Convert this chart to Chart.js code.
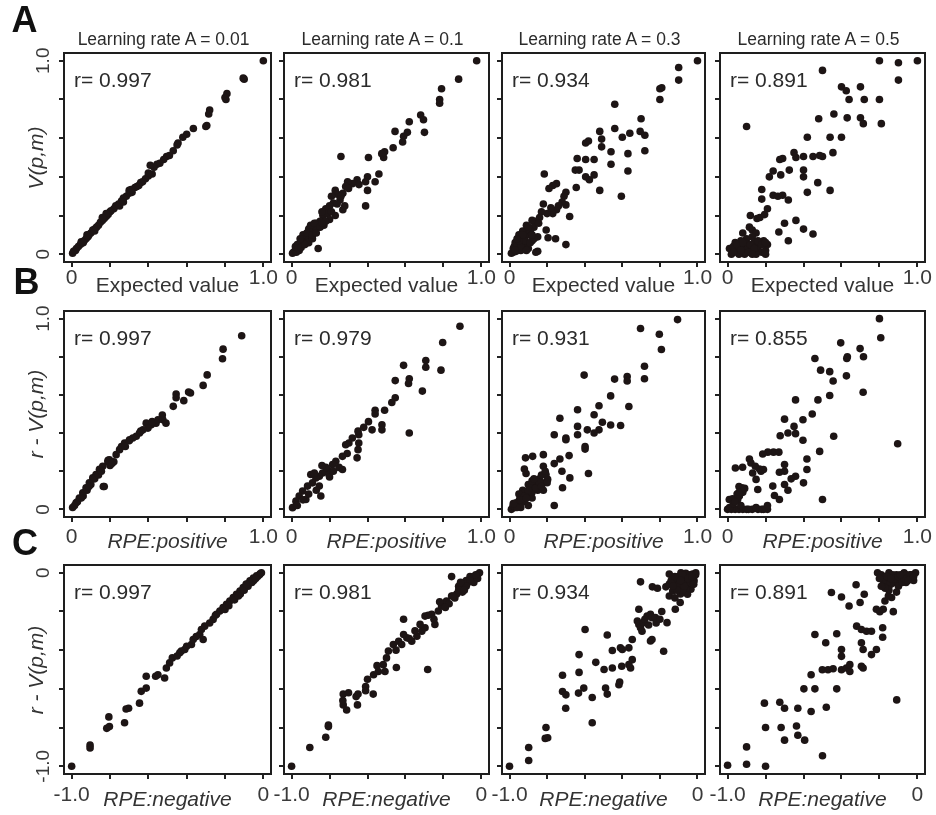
<!DOCTYPE html>
<html>
<head>
<meta charset="utf-8">
<script src="https://cdn.jsdelivr.net/npm/chart.js@4.4.1/dist/chart.umd.min.js"></script>
<style>
body { margin: 0; background: #fff; }
#fig { position: relative; width: 936px; height: 815px; overflow: hidden;
       font-family: "Liberation Sans", Arial, sans-serif; color: #2b2b2b; }
#fig canvas { position: absolute; }
.t { position: absolute; white-space: nowrap; line-height: 1; transform: translate(-50%, -50%); }
.letter { font-weight: bold; font-size: 36px; color: #111; }
.head { font-size: 17.5px; }
.rval { font-size: 21px; transform: translate(0, -50%); }
.xt { font-size: 21px; color: #333; }
.yt { font-size: 21px; font-style: italic; color: #333; transform: translate(-50%, -50%) rotate(-90deg); }
</style>
</head>
<body>
<div id="fig"></div>
<script>
// learning rates (columns) and correlation values per row
var rates = ['0.01', '0.1', '0.3', '0.5'];
var rA = ['0.997', '0.981', '0.934', '0.891'];
var rB = ['0.997', '0.979', '0.931', '0.855'];
var rC = ['0.997', '0.981', '0.934', '0.891'];

// axis ticks
var posTicks = [0, 0.2, 0.4, 0.6, 0.8, 1.0];
var negTicks = [-1.0, -0.8, -0.6, -0.4, -0.2, 0];
var posLabels = {'0': '0', '1': '1.0'};
var negLabels = {'-1': '-1.0', '0': '0'};

// row A: Expected value vs V(p,m)
var a1 = [[1,1],[0.9,0.905],[0.895,0.91],[0.81,0.83],[0.805,0.8],[0.8,0.81],[0.72,0.745],[0.715,0.725],[0.7,0.66],[0.705,0.665],
  [0.635,0.65],[0.6,0.62],[0.58,0.605],[0.555,0.575],[0.55,0.565],[0.53,0.535],[0.51,0.51],[0.495,0.505],[0.48,0.49],[0.46,0.47],
  [0.445,0.465],[0.43,0.45],[0.41,0.46],[0.42,0.415],[0.4,0.405],[0.385,0.39],[0.37,0.375],[0.36,0.37],[0.34,0.35],[0.33,0.345],
  [0.315,0.32],[0.3,0.315],[0.285,0.3],[0.27,0.29],[0.26,0.275],[0.245,0.26],[0.23,0.25],[0.22,0.235],[0.205,0.225],[0.2,0.22],
  [0.19,0.205],[0.18,0.195],[0.17,0.185],[0.16,0.175],[0.15,0.165],[0.14,0.15],[0.13,0.14],[0.12,0.13],[0.11,0.125],[0.1,0.11],
  [0.09,0.1],[0.085,0.09],[0.075,0.08],[0.065,0.07],[0.055,0.06],[0.045,0.05],[0.035,0.04],[0.025,0.03],[0.02,0.02],[0.01,0.015],
  [0.005,0.005],[0.25,0.25],[0.18,0.21],[0.12,0.12],[0.08,0.1],[0.05,0.065],[0.3,0.33],[0.4,0.42],[0.35,0.355],[0.31,0.335],
  [0.27,0.27],[0.06,0.06],[0.16,0.19]];
var a2 = [[0.975,1],[0.88,0.905],[0.79,0.855],[0.78,0.8],[0.78,0.78],[0.68,0.72],[0.695,0.695],[0.7,0.63],[0.62,0.685],[0.61,0.63],
  [0.59,0.61],[0.585,0.58],[0.545,0.635],[0.535,0.55],[0.49,0.53],[0.485,0.5],[0.475,0.52],[0.405,0.5],[0.26,0.505],[0.46,0.415],
  [0.44,0.375],[0.4,0.4],[0.39,0.375],[0.4,0.33],[0.345,0.385],[0.355,0.36],[0.32,0.365],[0.295,0.375],[0.285,0.35],[0.39,0.25],
  [0.23,0.33],[0.24,0.31],[0.21,0.3],[0.27,0.315],[0.255,0.28],[0.27,0.23],[0.22,0.265],[0.2,0.25],[0.18,0.235],[0.165,0.2],
  [0.19,0.21],[0.15,0.17],[0.16,0.22],[0.14,0.14],[0.12,0.13],[0.13,0.16],[0.1,0.11],[0.09,0.13],[0.08,0.09],[0.07,0.08],
  [0.06,0.06],[0.05,0.07],[0.04,0.04],[0.03,0.05],[0.02,0.02],[0.01,0.01],[0.005,0.005],[0.14,0.03],[0.06,0.1],[0.09,0.06],
  [0.11,0.08],[0.17,0.15],[0.2,0.18],[0.23,0.2],[0.3,0.34],[0.28,0.25],[0.1,0.15],[0.04,0.02],[0.025,0.01],[0.02,0.04],
  [0.035,0.03],[0.05,0.035],[0.07,0.05],[0.08,0.11],[0.11,0.1],[0.12,0.16],[0.15,0.14],[0.18,0.17],[0.13,0.11],[0.16,0.16],
  [0.21,0.22],[0.24,0.26],[0.26,0.3],[0.045,0.08]];
var a3 = [[1,1],[0.9,0.965],[0.9,0.9],[0.81,0.86],[0.8,0.855],[0.8,0.8],[0.56,0.775],[0.7,0.7],[0.695,0.635],[0.72,0.615],
  [0.72,0.535],[0.64,0.625],[0.6,0.605],[0.56,0.65],[0.48,0.635],[0.49,0.595],[0.49,0.555],[0.405,0.575],[0.42,0.585],[0.54,0.53],
  [0.63,0.52],[0.63,0.43],[0.595,0.3],[0.54,0.465],[0.45,0.49],[0.405,0.49],[0.36,0.495],[0.37,0.435],[0.405,0.4],[0.425,0.385],
  [0.45,0.41],[0.48,0.33],[0.355,0.345],[0.35,0.435],[0.3,0.32],[0.29,0.3],[0.25,0.365],[0.23,0.355],[0.21,0.34],[0.185,0.415],
  [0.32,0.195],[0.3,0.05],[0.3,0.255],[0.28,0.27],[0.25,0.23],[0.23,0.21],[0.2,0.21],[0.18,0.26],[0.17,0.22],[0.16,0.19],
  [0.14,0.17],[0.12,0.175],[0.13,0.14],[0.11,0.12],[0.1,0.1],[0.09,0.125],[0.08,0.09],[0.07,0.06],[0.06,0.08],[0.05,0.05],
  [0.04,0.03],[0.03,0.06],[0.02,0.01],[0.01,0.005],[0.035,0.015],[0.06,0.02],[0.08,0.04],[0.1,0.03],[0.15,0.015],[0.14,0.01],
  [0.195,0.125],[0.205,0.085],[0.245,0.08],[0.15,0.09],[0.12,0.07],[0.05,0.1],[0.025,0.04],[0.07,0.12],[0.155,0.16],[0.22,0.24],
  [0.26,0.25],[0.02,0.03],[0.04,0.05],[0.06,0.04],[0.08,0.07],[0.09,0.02],[0.11,0.06],[0.13,0.08],[0.05,0.07],[0.03,0.02],
  [0.07,0.1],[0.09,0.15],[0.12,0.1],[0.1,0.14],[0.04,0.08]];
var a4 = [[0.8,1],[0.9,0.99],[1,1],[0.9,0.9],[0.5,0.95],[0.6,0.865],[0.625,0.845],[0.7,0.865],[0.64,0.8],[0.72,0.8],
  [0.8,0.8],[0.81,0.675],[0.1,0.66],[0.56,0.725],[0.48,0.7],[0.63,0.705],[0.7,0.705],[0.715,0.675],[0.42,0.605],[0.54,0.605],
  [0.6,0.605],[0.555,0.525],[0.5,0.505],[0.485,0.51],[0.45,0.505],[0.4,0.505],[0.36,0.5],[0.35,0.525],[0.29,0.495],[0.275,0.49],
  [0.4,0.435],[0.4,0.4],[0.325,0.435],[0.28,0.41],[0.24,0.43],[0.22,0.4],[0.475,0.37],[0.54,0.33],[0.42,0.32],[0.18,0.335],
  [0.18,0.285],[0.21,0.235],[0.24,0.305],[0.265,0.3],[0.29,0.305],[0.32,0.28],[0.12,0.2],[0.155,0.185],[0.17,0.19],[0.195,0.205],
  [0.3,0.16],[0.36,0.175],[0.4,0.13],[0.45,0.105],[0.27,0.115],[0.32,0.07],[0.08,0.11],[0.115,0.14],[0.13,0.125],[0.15,0.11],
  [0.02,0],[0.03,0.02],[0.05,0.01],[0.06,0.04],[0.08,0.03],[0.1,0.05],[0.12,0.02],[0.14,0.06],[0.16,0.03],[0.18,0.01],
  [0.2,0.02],[0.21,0.05],[0.19,0.07],[0.17,0.06],[0.04,0.06],[0.07,0.07],[0.1,0.08],[0.13,0.09],[0.01,0.03],[0.09,0],
  [0.15,0],[0.06,0],[0.11,0.035],[0.03,0.04],[0.05,0.05],[0.07,0.02],[0.09,0.06],[0.12,0.05],[0.14,0.03],[0.16,0.07],
  [0.18,0.05],[0.2,0.06],[0.11,0.01],[0.13,0],[0.2,0],[0.08,0.06],[0.03,0.01]];

// row B: RPE:positive vs r - V(p,m)
var b1 = [[0.887,0.91],[0.79,0.84],[0.787,0.79],[0.707,0.705],[0.686,0.65],[0.62,0.61],[0.61,0.615],[0.545,0.605],[0.545,0.585],[0.585,0.57],
  [0.53,0.54],[0.473,0.495],[0.476,0.47],[0.492,0.452],[0.44,0.452],[0.415,0.443],[0.389,0.452],[0.398,0.426],[0.372,0.417],[0.354,0.4],
  [0.337,0.383],[0.319,0.374],[0.302,0.365],[0.276,0.348],[0.25,0.313],[0.232,0.287],[0.197,0.26],[0.189,0.25],[0.162,0.226],[0.145,0.21],
  [0.127,0.183],[0.11,0.165],[0.092,0.139],[0.075,0.113],[0.058,0.087],[0.04,0.06],[0.023,0.035],[0.005,0.01],[0.17,0.12],[0.2,0.23],
  [0.22,0.25],[0.12,0.16],[0.14,0.18],[0.08,0.1],[0.06,0.07],[0.03,0.04],[0.015,0.02],[0.1,0.13],[0.26,0.33],[0.28,0.33],
  [0.3,0.36],[0.36,0.41],[0.42,0.46],[0.45,0.47],[0.19,0.257],[0.165,0.12],[0.21,0.24],[0.05,0.06],[0.09,0.12],[0.155,0.2]];
var b2 = [[0.887,0.96],[0.796,0.875],[0.707,0.78],[0.707,0.745],[0.787,0.73],[0.59,0.755],[0.546,0.675],[0.62,0.685],[0.616,0.66],[0.689,0.62],
  [0.62,0.4],[0.546,0.585],[0.528,0.56],[0.49,0.52],[0.44,0.52],[0.44,0.5],[0.405,0.46],[0.476,0.443],[0.476,0.417],[0.424,0.417],
  [0.354,0.391],[0.32,0.374],[0.302,0.348],[0.285,0.339],[0.354,0.348],[0.35,0.313],[0.345,0.27],[0.293,0.293],[0.268,0.278],[0.233,0.252],
  [0.216,0.235],[0.19,0.209],[0.163,0.191],[0.146,0.174],[0.128,0.165],[0.101,0.183],[0.11,0.139],[0.084,0.122],[0.058,0.096],[0.04,0.07],
  [0.023,0.043],[0.005,0.009],[0.268,0.209],[0.197,0.183],[0.146,0.122],[0.154,0.07],[0.075,0.052],[0.18,0.22],[0.2,0.17],[0.22,0.2],
  [0.12,0.19],[0.09,0.08],[0.06,0.05],[0.03,0.02],[0.13,0.1],[0.25,0.22],[0.16,0.23],[0.35,0.41],[0.38,0.43]];
var b3 = [[0.894,0.995],[0.697,0.948],[0.797,0.918],[0.808,0.838],[0.718,0.75],[0.718,0.685],[0.626,0.696],[0.626,0.673],[0.559,0.683],[0.397,0.704],
  [0.538,0.595],[0.635,0.539],[0.476,0.543],[0.45,0.496],[0.362,0.522],[0.268,0.478],[0.494,0.457],[0.538,0.442],[0.591,0.44],[0.476,0.417],
  [0.45,0.4],[0.414,0.417],[0.402,0.316],[0.402,0.33],[0.362,0.435],[0.362,0.391],[0.3,0.374],[0.3,0.365],[0.238,0.391],[0.42,0.188],
  [0.268,0.264],[0.317,0.282],[0.279,0.2],[0.238,0.24],[0.321,0.165],[0.282,0.113],[0.238,0.02],[0.18,0.287],[0.123,0.278],[0.085,0.27],
  [0.079,0.212],[0.088,0.188],[0.18,0.226],[0.194,0.183],[0.203,0.157],[0.176,0.139],[0.15,0.122],[0.123,0.104],[0.097,0.07],[0.053,0.052],
  [0.035,0.035],[0.018,0.009],[0.01,0],[0.03,0.01],[0.05,0.02],[0.07,0.05],[0.09,0.09],[0.11,0.08],[0.13,0.12],[0.16,0.16],
  [0.17,0.18],[0.14,0.15],[0.1,0.13],[0.07,0.1],[0.05,0.08],[0.04,0.03],[0.06,0.01],[0.02,0.02],[0.12,0.06],[0.15,0.1],
  [0.19,0.2],[0.2,0.14],[0.18,0.1],[0.12,0.15],[0.08,0.04],[0.1,0.02],[0.12,0.09],[0.14,0.11],[0.16,0.14],[0.08,0.07],
  [0.06,0.05],[0.1,0.1],[0.13,0.16],[0.17,0.12],[0.04,0.01],[0.02,0.03],[0.09,0.06]];
var b4 = [[0.8,1],[0.807,0.9],[0.596,0.873],[0.698,0.843],[0.628,0.791],[0.631,0.8],[0.716,0.8],[0.46,0.791],[0.49,0.73],[0.538,0.722],
  [0.556,0.673],[0.626,0.7],[0.714,0.614],[0.896,0.344],[0.358,0.574],[0.476,0.574],[0.538,0.597],[0.446,0.5],[0.3,0.473],[0.397,0.47],
  [0.35,0.435],[0.358,0.397],[0.277,0.386],[0.318,0.4],[0.397,0.362],[0.559,0.383],[0.485,0.304],[0.418,0.264],[0.418,0.209],[0.3,0.235],
  [0.3,0.2],[0.273,0.195],[0.242,0.3],[0.212,0.3],[0.185,0.29],[0.27,0.3],[0.358,0.174],[0.335,0.16],[0.4,0.139],[0.3,0.13],
  [0.318,0.1],[0.273,0.052],[0.247,0.073],[0.238,0.122],[0.5,0.052],[0.041,0.217],[0.079,0.221],[0.115,0.264],[0.123,0.243],[0.146,0.226],
  [0.168,0.212],[0.176,0.2],[0.189,0.209],[0.159,0.104],[0.15,0.157],[0.132,0.191],[0.075,0.113],[0.071,0.087],[0.062,0.07],[0.053,0.052],
  [0.009,0.052],[0.026,0.055],[0,0],[0.02,0],[0.04,0],[0.06,0],[0.08,0],[0.1,0],[0.13,0],[0.16,0],
  [0.19,0],[0.21,0],[0.21,0.02],[0.05,0.08],[0.07,0.1],[0.06,0.12],[0.08,0.09],[0.01,0.01],[0.03,0.03],[0.07,0.02],
  [0.11,0],[0.15,0.01],[0.18,0],[0.06,0.09],[0.09,0.11],[0.04,0.04]];

// row C: RPE:negative vs r - V(p,m)
var c1 = [[-1,-1],[-0.904,-0.89],[-0.904,-0.905],[-0.806,-0.745],[-0.817,-0.804],[-0.803,-0.795],[-0.724,-0.775],[-0.716,-0.704],[-0.703,-0.7],[-0.646,-0.674],
  [-0.637,-0.613],[-0.611,-0.596],[-0.611,-0.535],[-0.562,-0.535],[-0.55,-0.527],[-0.515,-0.544],[-0.506,-0.492],[-0.489,-0.466],[-0.475,-0.44],[-0.436,-0.414],
  [-0.428,-0.405],[-0.41,-0.397],[-0.375,-0.371],[-0.366,-0.345],[-0.332,-0.319],[-0.323,-0.293],[-0.306,-0.276],[-0.262,-0.241],[-0.244,-0.215],[-0.227,-0.198],
  [-0.21,-0.18],[-0.192,-0.163],[-0.175,-0.146],[-0.157,-0.128],[-0.14,-0.111],[-0.122,-0.094],[-0.105,-0.076],[-0.087,-0.059],[-0.07,-0.042],[-0.052,-0.028],
  [-0.035,-0.016],[-0.017,-0.005],[-0.314,-0.345],[-0.45,-0.43],[-0.4,-0.38],[-0.28,-0.26],[-0.2,-0.19],[-0.15,-0.14],[-0.12,-0.11],[-0.08,-0.07],
  [-0.05,-0.04],[-0.02,-0.01],[-0.25,-0.22],[-0.35,-0.33],[-0.1,-0.09],[-0.06,-0.05],[-0.03,-0.02],[-0.18,-0.17],[-0.13,-0.12],[-0.09,-0.06],
  [-0.04,-0.03],[-0.01,0]];
var c2 = [[-1,-1],[-0.904,-0.903],[-0.82,-0.85],[-0.806,-0.787],[-0.806,-0.795],[-0.728,-0.627],[-0.728,-0.683],[-0.71,-0.709],[-0.653,-0.683],[-0.65,-0.627],
  [-0.61,-0.588],[-0.61,-0.61],[-0.57,-0.627],[-0.568,-0.527],[-0.543,-0.51],[-0.517,-0.475],[-0.508,-0.51],[-0.448,-0.49],[-0.283,-0.5],[-0.41,-0.24],
  [-0.49,-0.405],[-0.464,-0.371],[-0.436,-0.354],[-0.41,-0.319],[-0.42,-0.371],[-0.393,-0.336],[-0.367,-0.354],[-0.34,-0.328],[-0.314,-0.302],[-0.297,-0.284],
  [-0.323,-0.267],[-0.297,-0.224],[-0.262,-0.215],[-0.245,-0.267],[-0.227,-0.198],[-0.21,-0.172],[-0.184,-0.146],[-0.157,-0.12],[-0.157,-0.02],[-0.13,-0.11],
  [-0.11,-0.08],[-0.09,-0.06],[-0.07,-0.05],[-0.05,-0.03],[-0.03,-0.02],[-0.02,-0.01],[-0.01,0],[-0.04,-0.05],[-0.06,-0.02],[-0.08,-0.04],
  [-0.1,-0.1],[-0.12,-0.07],[-0.14,-0.13],[-0.17,-0.16],[-0.19,-0.18],[-0.22,-0.15],[-0.25,-0.24],[-0.28,-0.22],[-0.35,-0.3],[-0.38,-0.34],
  [-0.45,-0.4],[-0.5,-0.44],[-0.55,-0.48],[-0.6,-0.55],[-0.66,-0.64],[-0.7,-0.62],[-0.73,-0.66],[-0.04,-0.02],[-0.02,-0.03],[-0.06,-0.04],
  [-0.03,-0.01],[-0.08,-0.07],[-0.11,-0.05],[-0.12,-0.09],[-0.15,-0.12],[-0.09,-0.09]];
var c3 = [[-1,-1],[-0.898,-0.903],[-0.898,-0.97],[-0.806,-0.8],[-0.81,-0.856],[-0.797,-0.853],[-0.56,-0.775],[-0.701,-0.7],[-0.718,-0.614],[-0.7,-0.631],
  [-0.718,-0.53],[-0.63,-0.515],[-0.633,-0.622],[-0.605,-0.596],[-0.56,-0.645],[-0.63,-0.423],[-0.598,-0.293],[-0.541,-0.463],[-0.497,-0.5],[-0.489,-0.596],
  [-0.48,-0.627],[-0.418,-0.579],[-0.414,-0.565],[-0.453,-0.492],[-0.403,-0.483],[-0.356,-0.492],[-0.365,-0.475],[-0.347,-0.449],[-0.453,-0.402],[-0.41,-0.388],
  [-0.4,-0.397],[-0.365,-0.388],[-0.347,-0.345],[-0.48,-0.322],[-0.312,-0.189],[-0.32,-0.25],[-0.312,-0.267],[-0.303,-0.284],[-0.286,-0.258],[-0.295,-0.302],
  [-0.268,-0.224],[-0.25,-0.215],[-0.242,-0.232],[-0.25,-0.353],[-0.242,-0.345],[-0.18,-0.406],[-0.224,-0.232],[-0.19,-0.2],[-0.162,-0.258],[-0.118,-0.189],
  [-0.092,-0.154],[-0.303,-0.047],[-0.24,-0.073],[-0.213,-0.08],[-0.168,-0.073],[-0.15,-0.007],[-0.132,-0.024],[-0.15,-0.059],[-0.15,-0.12],[-0.132,-0.094],
  [-0.097,-0.076],[-0.079,-0.059],[-0.062,-0.042],[-0.044,-0.024],[-0.026,-0.007],[-0.009,0],[-0.088,0],[-0.062,-0.003],[-0.053,-0.111],[-0.035,-0.085],
  [-0.018,-0.042],[-0.1,-0.02],[-0.07,-0.03],[-0.05,-0.06],[-0.03,-0.04],[-0.11,-0.05],[-0.12,-0.13],[-0.09,-0.11],[-0.06,-0.08],[-0.04,-0.01],
  [-0.02,-0.02],[-0.08,-0.09],[-0.14,-0.04],[-0.01,-0.01],[-0.26,-0.27],[-0.22,-0.26],[-0.2,-0.24],[-0.28,-0.24],[-0.12,-0.02],[-0.1,-0.06],
  [-0.08,-0.01],[-0.06,-0.06],[-0.04,-0.05],[-0.02,-0.06],[-0.11,-0.09],[-0.07,-0.07],[-0.05,-0.03],[-0.13,-0.07],[-0.03,-0.02],[-0.09,-0.04]];
var c4 = [[-1,-0.995],[-0.9,-0.99],[-0.8,-1],[-0.9,-0.9],[-0.5,-0.946],[-0.8,-0.8],[-0.718,-0.8],[-0.637,-0.792],[-0.63,-0.84],[-0.594,-0.865],
  [-0.7,-0.865],[-0.806,-0.674],[-0.725,-0.669],[-0.7,-0.7],[-0.63,-0.7],[-0.56,-0.717],[-0.48,-0.695],[-0.598,-0.6],[-0.54,-0.6],[-0.425,-0.6],
  [-0.109,-0.657],[-0.56,-0.527],[-0.501,-0.501],[-0.471,-0.501],[-0.444,-0.496],[-0.4,-0.501],[-0.374,-0.492],[-0.356,-0.51],[-0.356,-0.475],[-0.295,-0.483],
  [-0.286,-0.492],[-0.54,-0.319],[-0.483,-0.362],[-0.425,-0.315],[-0.4,-0.397],[-0.4,-0.432],[-0.295,-0.362],[-0.286,-0.397],[-0.242,-0.423],[-0.216,-0.397],
  [-0.183,-0.333],[-0.183,-0.284],[-0.32,-0.276],[-0.295,-0.293],[-0.268,-0.302],[-0.242,-0.302],[-0.453,-0.102],[-0.4,-0.125],[-0.36,-0.172],[-0.323,-0.062],
  [-0.302,-0.154],[-0.28,-0.111],[-0.216,-0.189],[-0.198,-0.201],[-0.18,-0.189],[-0.171,-0.146],[-0.136,-0.128],[-0.127,-0.201],[-0.153,-0.12],[-0.21,0],
  [-0.19,-0.01],[-0.17,-0.02],[-0.15,0],[-0.13,-0.03],[-0.11,-0.01],[-0.09,-0.04],[-0.07,0],[-0.05,-0.02],[-0.03,-0.01],[-0.01,0],
  [-0.12,-0.05],[-0.08,-0.02],[-0.06,-0.05],[-0.04,-0.03],[-0.02,-0.04],[-0.14,-0.06],[-0.1,-0.07],[-0.16,-0.05],[-0.18,-0.04],[-0.2,-0.03],
  [-0.11,-0.1],[-0.15,-0.09],[-0.17,-0.08],[-0.13,-0.01],[-0.12,-0.03],[-0.1,-0.02],[-0.08,-0.05],[-0.06,-0.01],[-0.04,-0.01],[-0.02,-0.02],
  [-0.07,-0.03],[-0.09,-0.01],[-0.05,-0.04],[-0.16,-0.02],[-0.14,-0.03],[-0.19,-0.07]];

// panel geometry (plot box edges in page pixels)
var colLeft = [64, 284, 502, 720];
var colRight = [271, 489, 705, 925];
var rowTop = [53, 311, 565];
var rowBottom = [262, 517, 774];

var fig = document.getElementById('fig');
var FONT = '"Liberation Sans", Arial, sans-serif';

function addText(cls, html, x, y) {
  var d = document.createElement('div');
  d.className = 't ' + cls;
  d.innerHTML = html;
  d.style.left = x + 'px';
  d.style.top = y + 'px';
  fig.appendChild(d);
  return d;
}

function labelOf(map, v) {
  var k = String(Math.round(v * 100) / 100);
  return map[k] !== undefined ? map[k] : '';
}

function panel(row, col, pts, rtext, neg) {
  var L = colLeft[col], R = colRight[col], T = rowTop[row], B = rowBottom[row];
  var w = R - L + 65, h = B - T + 60;
  var cv = document.createElement('canvas');
  cv.width = w; cv.height = h;
  cv.style.left = (L - 45) + 'px';
  cv.style.top = (T - 20) + 'px';
  cv.style.width = w + 'px';
  cv.style.height = h + 'px';
  fig.appendChild(cv);

  var tickVals = neg ? negTicks : posTicks;
  var labels = neg ? negLabels : posLabels;
  var range = neg ? [-1.04, 0.04] : [-0.04, 1.04];
  var pad = [0.5, 4.5, 5.5][row];

  var frame = {
    id: 'frame',
    afterDraw: function (chart) {
      var ctx = chart.ctx, a = chart.chartArea, ys = chart.scales.y;
      ctx.save();
      ctx.strokeStyle = '#1e1e1e';
      ctx.lineWidth = 2;
      ctx.strokeRect(a.left, a.top, a.right - a.left, a.bottom - a.top);
      if (col === 0) {
        ctx.fillStyle = '#3a3a3a';
        ctx.font = '19px ' + FONT;
        ctx.textAlign = 'center';
        ctx.textBaseline = 'middle';
        tickVals.forEach(function (v) {
          var s = labelOf(labels, v);
          if (!s) return;
          ctx.save();
          ctx.translate(a.left - 20, ys.getPixelForValue(v));
          ctx.rotate(-Math.PI / 2);
          ctx.fillText(s, 0, 0);
          ctx.restore();
        });
      }
      ctx.restore();
    }
  };

  var grid = { drawOnChartArea: false, drawTicks: true, tickLength: 5, lineWidth: 2, color: '#222' };

  new Chart(cv, {
    type: 'scatter',
    data: {
      datasets: [{
        data: pts.map(function (p) { return {x: p[0], y: p[1]}; }),
        backgroundColor: '#1d1515',
        pointRadius: 3.8,
        pointHoverRadius: 3.8,
        pointBorderWidth: 0
      }]
    },
    options: {
      responsive: false,
      animation: false,
      devicePixelRatio: 1,
      events: [],
      layout: { padding: {left: 0, top: 20, right: 20, bottom: 0}, autoPadding: false },
      plugins: { legend: {display: false}, tooltip: {enabled: false} },
      scales: {
        x: {
          type: 'linear', min: range[0], max: range[1],
          afterBuildTicks: function (s) { s.ticks = tickVals.map(function (v) { return {value: v}; }); },
          afterFit: function (s) { s.height = 40; },
          border: {display: false},
          grid: grid,
          ticks: {
            autoSkip: false, maxRotation: 0, minRotation: 0, padding: pad,
            color: '#3a3a3a', font: {family: FONT, size: 21, lineHeight: 1},
            callback: function (v) { return labelOf(labels, v); }
          }
        },
        y: {
          type: 'linear', min: range[0], max: range[1],
          afterBuildTicks: function (s) { s.ticks = tickVals.map(function (v) { return {value: v}; }); },
          afterFit: function (s) { s.width = 45; },
          border: {display: false},
          grid: grid,
          ticks: {display: false}
        }
      }
    },
    plugins: [frame]
  });

  // correlation label inside the box
  var r = addText('rval', 'r= ' + rtext, L + 10, T + 26);
  r.style.transform = 'translate(0,-50%)';
}

var rows = [[a1, a2, a3, a4], [b1, b2, b3, b4], [c1, c2, c3, c4]];
var rvals = [rA, rB, rC];
var xTitles = ['Expected value', '<i>RPE:positive</i>', '<i>RPE:negative</i>'];
var yTitles = ['V(p,m)', 'r - V(p,m)', 'r - V(p,m)'];
var titleOffset = [22, 23, 24];
var letters = ['A', 'B', 'C'];
var letterPos = [[24.5, 20], [26.5, 282], [25, 543]];

for (var row = 0; row < 3; row++) {
  for (var col = 0; col < 4; col++) {
    panel(row, col, rows[row][col], rvals[row][col], row === 2);
    var cx = (colLeft[col] + colRight[col]) / 2;
    addText('xt', xTitles[row], cx, rowBottom[row] + titleOffset[row]);
  }
  addText('yt', yTitles[row], 35, (rowTop[row] + rowBottom[row]) / 2);
  addText('letter', letters[row], letterPos[row][0], letterPos[row][1]);
}
for (var c = 0; c < 4; c++) {
  addText('head', 'Learning rate A = ' + rates[c], (colLeft[c] + colRight[c]) / 2 - 4, 40);
}
</script>
</body>
</html>
